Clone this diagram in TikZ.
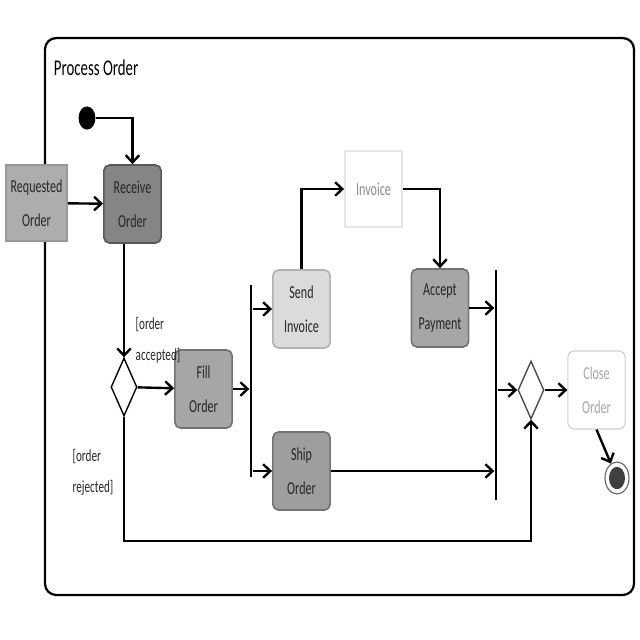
\documentclass[tikz,border=0pt]{standalone}
\usepackage{fontspec}
\setmainfont{Carlito}[FakeStretch=0.66]
\usetikzlibrary{arrows.meta, positioning, shapes.geometric}

\begin{document}
\begin{tikzpicture}[
    x=0.025cm, y=-0.025cm,
    font=\fontsize{13}{24}\selectfont,
    action/.style={
        rectangle,
        rounded corners=4pt,
        draw=black!55,
        line width=1.2pt,
        align=center,
        text=black!85,
        minimum width=1.43cm,
        minimum height=1.95cm,
        fill=black!35
    },
    object/.style={
        rectangle,
        draw=black!40,
        line width=1.2pt,
        align=center,
        text=black!85,
        minimum width=1.43cm,
        minimum height=1.9cm,
        fill=black!32
    },
    decision/.style={
        diamond,
        draw=black,
        line width=1pt,
        fill=white,
        inner sep=0pt,
        minimum width=0.65cm,
        minimum height=1.45cm
    },
    bar/.style={
        rectangle,
        fill=black,
        inner sep=0pt,
        minimum width=0.07cm
    },
    guard/.style={align=left, text=black!85, font=\fontsize{12}{22}\selectfont},
    arrow/.style={-{Straight Barb[length=1.8mm, width=3.4mm]}, line width=1.7pt}
]

\useasboundingbox (0,0) rectangle (640,640);

% activity frame
\draw[rounded corners=8pt, line width=1.6pt] (45,38) rectangle (634,595);
\node[anchor=west, font=\fontsize{16}{18}\selectfont] (title) at (49,68) {Process Order};

% nodes
\node[ellipse, fill=black, inner sep=0pt, minimum width=0.42cm, minimum height=0.58cm] (start) at (87,118) {};
\node[object] (req) at (36.5,203) {Requested\\Order};
\node[action, fill=black!48, draw=black!65] (recv) at (132.5,204) {Receive\\Order};
\node[decision] (dec) at (124,387) {};
\node[action] (fill) at (203.5,389) {Fill\\Order};
\node[bar, minimum height=4.8cm] (fork) at (251,381) {};
\node[action, fill=black!14, draw=black!30] (send) at (301.5,309) {Send\\Invoice};
\node[action, fill=black!38] (ship) at (301.5,471) {Ship\\Order};
\node[object, fill=white, draw=black!10, text=black!45] (invoice) at (373.5,189) {Invoice};
\node[action] (accept) at (440,308) {Accept\\Payment};
\node[bar, minimum height=5.75cm] (join) at (496,385) {};
\node[decision, draw=black!70] (merge) at (531,390) {};
\node[action, fill=white, draw=black!18, text=black!35, line width=0.8pt] (close) at (596.5,390) {Close\\Order};
\node[ellipse, draw=black!60, line width=0.8pt, inner sep=0pt, minimum width=0.6cm, minimum height=0.8cm,
      path picture={\fill[black!75] (path picture bounding box.center) ellipse (0.2cm and 0.28cm);}] (final) at (617,478) {};

\coordinate (bottom) at (0,541);

% guards
\node[guard] (accepted) at (158,340) {[order\\accepted]};
\node[guard] (rejected) at (93,472) {[order\\rejected]};

% flows
\draw[arrow] (start) -| (recv);
\draw[arrow] (req) -- (recv);
\draw[arrow] (recv.south -| dec.north) -- (dec.north);
\draw[arrow] (dec) -- (fill);
\draw[arrow] (fill) -- (fill -| fork.west);
\draw[arrow] (fork.east |- send) -- (send);
\draw[arrow] (fork.east |- ship) -- (ship);
\draw[arrow] (send.north) |- (invoice.west);
\draw[arrow] (invoice.east) -| (accept.north);
\draw[arrow] (accept) -- (accept -| join.west);
\draw[arrow] (ship) -- (ship -| join.west);
\draw[arrow] (join.east |- merge) -- (merge);
\draw[arrow] (merge) -- (close);
\draw[arrow] (close.south) -- (final);
\draw[arrow] (dec.south) -- (dec |- bottom) -| (merge.south);

\end{tikzpicture}
\end{document}
